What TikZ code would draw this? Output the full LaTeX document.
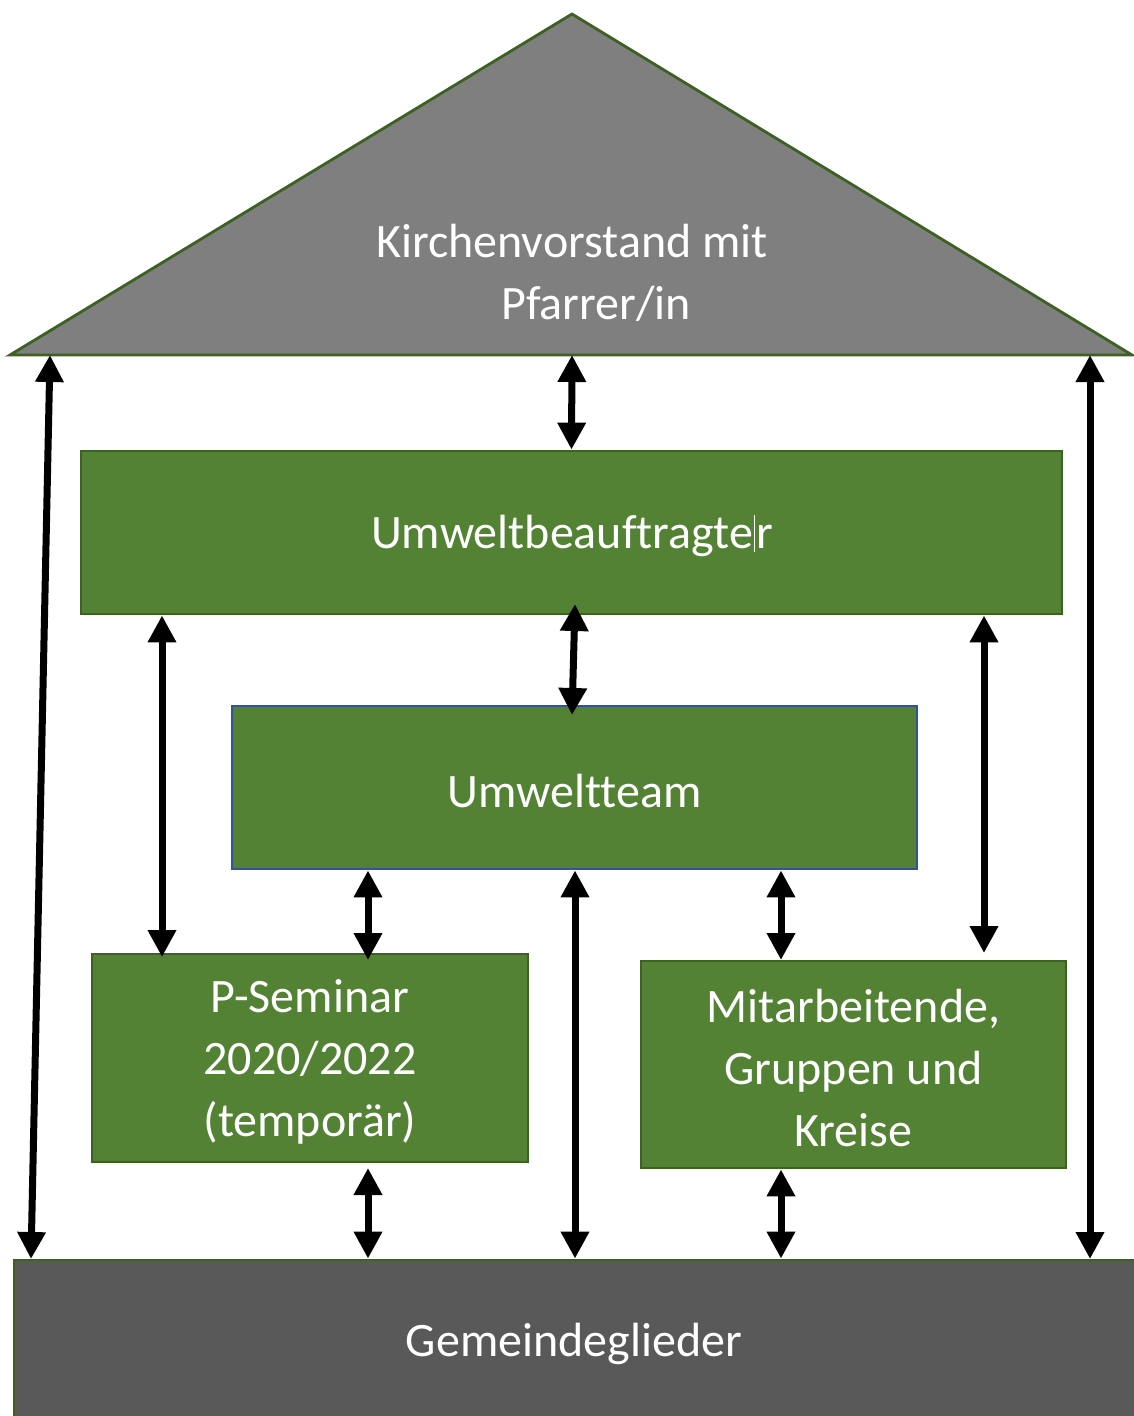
\documentclass[tikz,border=0pt]{standalone}
\usepackage{fontspec}
\setmainfont[Ligatures=CommonOff]{Carlito}
\usetikzlibrary{arrows.meta}
\definecolor{boxgreen}{HTML}{548235}
\definecolor{edgegreen}{HTML}{3D6023}
\definecolor{roofgray}{HTML}{7F7F7F}
\definecolor{basegray}{HTML}{595959}
\definecolor{edgeblue}{HTML}{2F5597}
\tikzset{
  box/.style={draw=edgegreen, line width=2.8pt, fill=boxgreen, inner sep=0pt},
  lbl/.style={text=white, align=center, inner sep=0pt, font=\fontsize{48}{62}\selectfont},
  dbl/.style={line width=7pt, {Triangle[width=27pt,length=27pt]}-{Triangle[width=27pt,length=27pt]}},
}
\begin{document}
\begin{tikzpicture}[x=1pt,y=-1pt]
\useasboundingbox (0,0) rectangle (1133,1416);
% roof
\coordinate (apex) at (572,14);
\coordinate (rl) at (10,355);
\coordinate (rr) at (1132,355);
\draw[draw=edgegreen, line width=2.8pt, fill=roofgray, line join=miter] (rl) -- (apex) -- (rr) -- cycle;
\node[lbl] (kv) at (572,273) {Kirchenvorstand mit\\\hspace*{48pt}Pfarrer/in};
% boxes
\node[box, minimum width=981pt, minimum height=163pt] (ub) at (571.5,532.5) {};
\node[lbl] (ubt) at (572,536) {Umweltbeauftragte\kern1pt\rule[-3pt]{1.2pt}{37pt}\kern1pt r};
\node[box, draw=edgeblue, minimum width=685pt, minimum height=163pt] (ut) at (574.5,787.5) {};
\node[lbl] (utt) at (574.5,791) {Umweltteam};
\node[box, minimum width=436pt, minimum height=208pt] (ps) at (310,1058) {};
\node[lbl] (pst) at (310,1062) {P-Seminar\\2020/2022\\(temporär)};
\node[box, minimum width=425pt, minimum height=207pt] (ma) at (853.5,1064.5) {};
\node[lbl] (mat) at (853.5,1067.5) {Mitarbeitende,\\Gruppen und\\Kreise};
\node[box, fill=basegray, minimum width=1126pt, minimum height=162pt] (gg) at (577,1341) {};
\node[lbl] (ggt) at (574,1344) {Gemeindeglieder};
% arrows
\coordinate (a1t) at (50,355);  \coordinate (a1b) at (31,1259);
\coordinate (a2t) at (1090,355); \coordinate (a2b) at (1090,1259);
\draw[dbl] (a1t) -- (a1b);
\draw[dbl] (a2t) -- (a2b);
\draw[dbl] (572,355) -- (ub.north);
\draw[dbl] (575,604) -- (572,715);
\draw[dbl] (ub.south -| 162,0) -- (162,957);
\draw[dbl] (ub.south -| 984,0) -- (984,953);
\draw[dbl] (ut.south -| 368,0) -- (368,960);
\draw[dbl] (ut.south -| 575,0) -- (gg.north -| 575,0);
\draw[dbl] (ut.south -| 781,0) -- (781,960);
\draw[dbl] (368,1168) -- (gg.north -| 368,0);
\draw[dbl] (ma.south -| 781,0) -- (gg.north -| 781,0);
\end{tikzpicture}
\end{document}
